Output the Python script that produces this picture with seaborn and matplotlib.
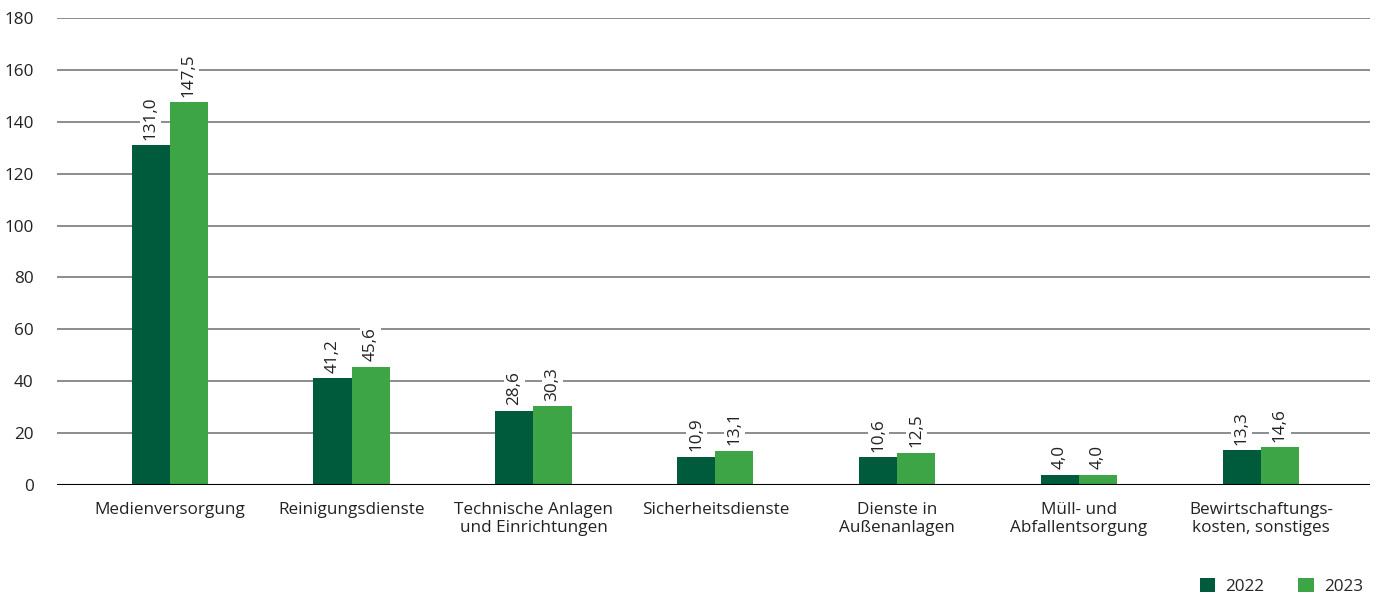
import matplotlib
matplotlib.use("Agg")
import matplotlib.pyplot as plt
import seaborn as sns
import pandas as pd

categories = [
    "Medienversorgung",
    "Reinigungsdienste",
    "Technische Anlagen\nund Einrichtungen",
    "Sicherheitsdienste",
    "Dienste in\nAußenanlagen",
    "Müll- und\nAbfallentsorgung",
    "Bewirtschaftungs-\nkosten, sonstiges",
]
values_2022 = [131.0, 41.2, 28.6, 10.9, 10.6, 4.0, 13.3]
values_2023 = [147.5, 45.6, 30.3, 13.1, 12.5, 4.0, 14.6]
years = ["2022", "2023"]
y_ticks = [0, 20, 40, 60, 80, 100, 120, 140, 160, 180]

palette = {"2022": "#005a3c", "2023": "#3da545"}

df = pd.DataFrame({
    "Kategorie": categories * 2,
    "Jahr": [years[0]] * len(categories) + [years[1]] * len(categories),
    "Wert": values_2022 + values_2023,
})

sns.set_theme(style="white")
plt.rcParams["font.family"] = ["Open Sans", "DejaVu Sans"]

fig = plt.figure(figsize=(13.77, 5.94), dpi=100)
ax = fig.add_axes([0.0414, 0.1835, 0.9535, 0.7862])

sns.barplot(data=df, x="Kategorie", y="Wert", hue="Jahr", palette=palette,
            width=0.42, gap=0, saturation=1, linewidth=0, ax=ax,
            legend=True, zorder=3)

ax.set_ylim(0, 180)
ax.set_xlim(-0.62, 6.6)
ax.set_yticks(y_ticks)
ax.set_yticklabels([str(t) for t in y_ticks], fontsize=12.3, color="#222222")
ax.tick_params(axis="y", length=0, pad=17)
ax.tick_params(axis="x", length=0, pad=12, labelsize=12.3, labelcolor="#222222")
ax.set_xlabel("")
ax.set_ylabel("")

for t in y_ticks[1:]:
    ax.axhline(t, color="#6e6e6e", linewidth=1.1, zorder=1)
ax.axhline(0, color="#000000", linewidth=1.5, zorder=4)

for s in ["top", "right", "left", "bottom"]:
    ax.spines[s].set_visible(False)

for container in ax.containers:
    for bar in container:
        h = bar.get_height()
        ax.annotate(f"{h:.1f}".replace(".", ","),
                    (bar.get_x() + bar.get_width() / 2, h),
                    xytext=(0, 4), textcoords="offset points",
                    rotation=90, ha="center", va="bottom",
                    fontsize=12.3, color="#222222", zorder=5,
                    bbox=dict(boxstyle="square,pad=0.15", fc="white", ec="none"))

handles, labels = ax.get_legend_handles_labels()
ax.legend(handles, labels, loc="lower right", bbox_to_anchor=(1.0, -0.25),
          ncol=2, frameon=False, fontsize=12.3, handlelength=0.9,
          handleheight=0.9, handletextpad=0.6, columnspacing=2.0,
          borderaxespad=0)

fig.savefig("out.png", dpi=100)
